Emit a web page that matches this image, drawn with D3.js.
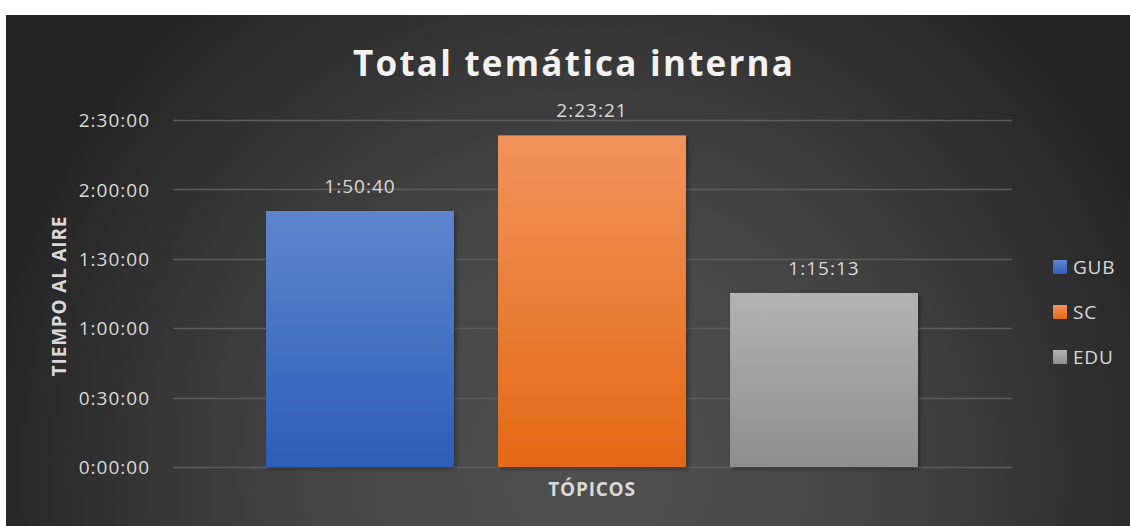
<!DOCTYPE html>
<html>
<head>
<meta charset="utf-8">
<script src="https://cdn.jsdelivr.net/npm/d3@7"></script>
<style>
  html, body { margin: 0; padding: 0; background: #ffffff; }
  svg { display: block; font-family: "Open Sans", "Noto Sans", sans-serif; }
</style>
</head>
<body>
<svg id="chart" width="1130" height="526"></svg>
<script>
// data (seconds of air time)
const category = "TÓPICOS";
const series = ["GUB", "SC", "EDU"];
const values = [6640, 8601, 4513];
const valueLabels = ["1:50:40", "2:23:21", "1:15:13"];
const tickValues = [0, 1800, 3600, 5400, 7200, 9000];
const tickLabels = ["0:00:00", "0:30:00", "1:00:00", "1:30:00", "2:00:00", "2:30:00"];
const colorsTop = ["#5e86cd", "#f2935c", "#b3b3b3"];
const colorsBottom = ["#2d5db8", "#e36915", "#8e8e8e"];

const W = 1130, H = 526;
const svg = d3.select("#chart");
const defs = svg.append("defs");

// background
const bg = defs.append("radialGradient").attr("id", "bgGrad")
  .attr("gradientUnits", "userSpaceOnUse")
  .attr("cx", 590).attr("cy", 470).attr("r", 620);
bg.append("stop").attr("offset", "0%").attr("stop-color", "#505050");
bg.append("stop").attr("offset", "45%").attr("stop-color", "#454545");
bg.append("stop").attr("offset", "100%").attr("stop-color", "#242424");

svg.append("rect").attr("x", 6).attr("y", 15).attr("width", W - 6).attr("height", H - 15)
  .attr("fill", "url(#bgGrad)");

series.forEach((s, i) => {
  const g = defs.append("linearGradient").attr("id", "bar" + i)
    .attr("x1", 0).attr("y1", 0).attr("x2", 0).attr("y2", 1);
  g.append("stop").attr("offset", "0%").attr("stop-color", colorsTop[i]);
  g.append("stop").attr("offset", "100%").attr("stop-color", colorsBottom[i]);
});

const shadow = defs.append("filter").attr("id", "shadow")
  .attr("x", "-10%").attr("y", "-10%").attr("width", "130%").attr("height", "130%");
shadow.append("feDropShadow").attr("dx", 2).attr("dy", 2).attr("stdDeviation", 2)
  .attr("flood-color", "#000").attr("flood-opacity", 0.35);

// scales
const plot = { left: 173, right: 1012, top: 120, bottom: 467 };
const y = d3.scaleLinear().domain([0, 9000]).range([plot.bottom, plot.top]);
const x1 = d3.scaleBand().domain(series).range([266, 918]).paddingInner(0.19).paddingOuter(0);

// gridlines
svg.append("g")
  .selectAll("line").data(tickValues).join("line")
  .attr("x1", plot.left).attr("x2", plot.right)
  .attr("y1", d => Math.round(y(d)) + 0.5).attr("y2", d => Math.round(y(d)) + 0.5)
  .attr("stroke", "#5c5c5c").attr("stroke-width", 1.5);

// y axis
const yAxis = d3.axisLeft(y).tickValues(tickValues)
  .tickFormat((d, i) => tickLabels[i]).tickSize(0).tickPadding(0);
const ya = svg.append("g").attr("transform", `translate(150,0)`).call(yAxis);
ya.select(".domain").remove();
ya.selectAll("text").attr("fill", "#d9d9d9").attr("font-size", 19)
  .attr("letter-spacing", 1)
  .attr("font-family", "'Open Sans', sans-serif").attr("dy", "0.35em");

// bars
svg.append("g").selectAll("rect").data(series).join("rect")
  .attr("x", d => x1(d))
  .attr("y", (d, i) => y(values[i]))
  .attr("width", x1.bandwidth())
  .attr("height", (d, i) => plot.bottom - y(values[i]))
  .attr("fill", (d, i) => `url(#bar${i})`)
  .attr("filter", "url(#shadow)");

// data labels
svg.append("g").selectAll("text").data(series).join("text")
  .attr("x", d => x1(d) + x1.bandwidth() / 2)
  .attr("y", (d, i) => y(values[i]) - 18)
  .attr("text-anchor", "middle")
  .attr("fill", "#d9d9d9").attr("font-size", 19).attr("letter-spacing", 1)
  .text((d, i) => valueLabels[i]);

// title
svg.append("text").attr("x", 573).attr("y", 76)
  .attr("text-anchor", "middle").attr("fill", "#f2f2f2")
  .attr("font-size", 35).attr("font-weight", "bold")
  .attr("textLength", 440).attr("lengthAdjust", "spacing")
  .text("Total temática interna");

// axis titles
svg.append("text").attr("x", 592).attr("y", 496)
  .attr("text-anchor", "middle").attr("fill", "#d9d9d9")
  .attr("font-size", 19).attr("font-weight", "bold").attr("letter-spacing", 0.8)
  .text(category);

svg.append("text").attr("transform", "translate(66,296) rotate(-90)")
  .attr("text-anchor", "middle").attr("fill", "#d9d9d9")
  .attr("font-size", 19).attr("font-weight", "bold").attr("letter-spacing", 0.8)
  .text("TIEMPO AL AIRE");

// legend
const legend = svg.append("g").selectAll("g").data(series).join("g")
  .attr("transform", (d, i) => `translate(1053,${260 + i * 45})`);
legend.append("rect").attr("width", 14).attr("height", 14)
  .attr("fill", (d, i) => `url(#bar${i})`);
legend.append("text").attr("x", 20).attr("y", 7).attr("dy", "0.35em")
  .attr("fill", "#d9d9d9").attr("font-size", 19).attr("letter-spacing", 0.8)
  .text(d => d);
</script>
</body>
</html>
